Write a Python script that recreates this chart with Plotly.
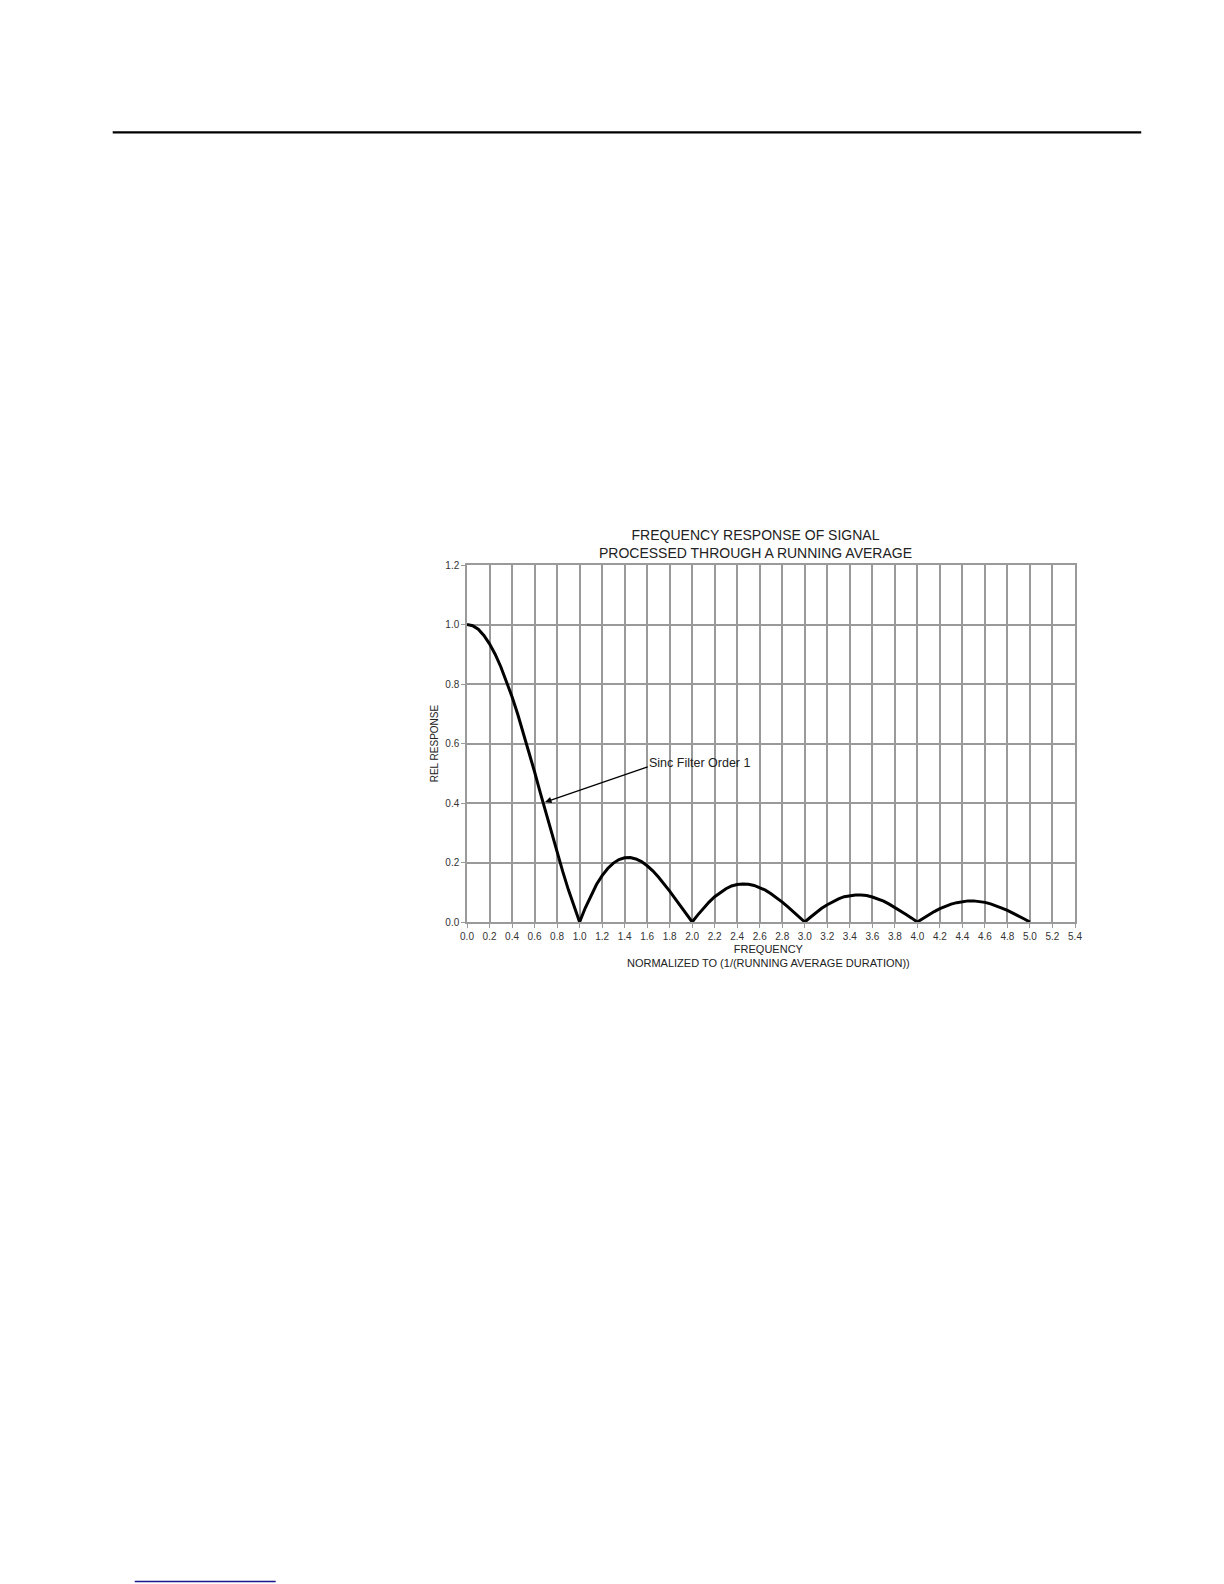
import plotly.graph_objects as go

# normalized frequency and relative response
freq = [0.00, 0.05, 0.10, 0.15, 0.20, 0.25, 0.30, 0.35, 0.40, 0.45,
        0.50, 0.55, 0.60, 0.65, 0.70, 0.75, 0.80, 0.85, 0.90, 0.95,
        1.00, 1.05, 1.10, 1.15, 1.20, 1.25, 1.30, 1.35, 1.40, 1.45,
        1.50, 1.55, 1.60, 1.65, 1.70, 1.75, 1.80, 1.85, 1.90, 1.95,
        2.00, 2.05, 2.10, 2.15, 2.20, 2.25, 2.30, 2.35, 2.40, 2.45,
        2.50, 2.55, 2.60, 2.65, 2.70, 2.75, 2.80, 2.85, 2.90, 2.95,
        3.00, 3.05, 3.10, 3.15, 3.20, 3.25, 3.30, 3.35, 3.40, 3.45,
        3.50, 3.55, 3.60, 3.65, 3.70, 3.75, 3.80, 3.85, 3.90, 3.95,
        4.00, 4.05, 4.10, 4.15, 4.20, 4.25, 4.30, 4.35, 4.40, 4.45,
        4.50, 4.55, 4.60, 4.65, 4.70, 4.75, 4.80, 4.85, 4.90, 4.95, 5.00]
response = [1.000, 0.996, 0.984, 0.963, 0.935, 0.900, 0.858, 0.810, 0.757, 0.699,
            0.637, 0.572, 0.505, 0.436, 0.368, 0.300, 0.234, 0.170, 0.109, 0.052,
            0.000, 0.047, 0.089, 0.126, 0.156, 0.180, 0.198, 0.210, 0.216, 0.217,
            0.212, 0.203, 0.189, 0.172, 0.151, 0.129, 0.104, 0.078, 0.052, 0.026,
            0.000, 0.024, 0.047, 0.067, 0.085, 0.100, 0.112, 0.121, 0.126, 0.128,
            0.127, 0.123, 0.116, 0.107, 0.095, 0.082, 0.067, 0.051, 0.034, 0.017,
            0.000, 0.016, 0.032, 0.046, 0.058, 0.069, 0.078, 0.085, 0.089, 0.091,
            0.091, 0.089, 0.084, 0.078, 0.070, 0.060, 0.049, 0.038, 0.025, 0.013,
            0.000, 0.012, 0.024, 0.035, 0.045, 0.053, 0.060, 0.065, 0.069, 0.071,
            0.071, 0.069, 0.066, 0.061, 0.055, 0.047, 0.039, 0.030, 0.020, 0.010, 0.000]

x_ticks = [round(0.2 * i, 1) for i in range(28)]
y_ticks = [0.0, 0.2, 0.4, 0.6, 0.8, 1.0, 1.2]

font = 'Liberation Sans, Arial, sans-serif'
grid = '#9a9a9a'

fig = go.Figure(go.Scatter(
    x=freq, y=response, mode='lines',
    line=dict(color='black', width=3),
    showlegend=False, hoverinfo='skip'))

fig.update_layout(
    width=1224, height=1584,
    margin=dict(l=459, r=157, t=557, b=670),
    paper_bgcolor='white', plot_bgcolor='white',
    font=dict(family=font, color='#222'),
    xaxis=dict(range=[0, 5.4], tickvals=x_ticks,
               ticktext=[f'{v:.1f}' for v in x_ticks],
               showgrid=True, gridcolor=grid, gridwidth=1.5,
               showline=True, linecolor=grid, linewidth=1.5, mirror=True,
               ticks='outside', ticklen=4, tickcolor=grid,
               tickfont=dict(size=10, family=font, color='#333'), zeroline=False),
    yaxis=dict(range=[0, 1.2], tickvals=y_ticks,
               ticktext=[f'{v:.1f}' for v in y_ticks],
               showgrid=True, gridcolor=grid, gridwidth=1.5,
               showline=True, linecolor=grid, linewidth=1.5, mirror=True,
               ticks='outside', ticklen=4, tickcolor=grid,
               tickfont=dict(size=10, family=font, color='#333'), zeroline=False),
    annotations=[
        dict(text='FREQUENCY RESPONSE OF SIGNAL<br>PROCESSED THROUGH A RUNNING AVERAGE',
             xref='paper', yref='paper', x=0.474, y=1.06,
             xanchor='center', yanchor='middle', showarrow=False,
             font=dict(size=14, family=font, color='#222')),
        dict(text='FREQUENCY<br>NORMALIZED TO (1/(RUNNING AVERAGE DURATION))',
             xref='paper', yref='paper', x=0.496, y=-0.0966,
             xanchor='center', yanchor='middle', showarrow=False,
             font=dict(size=11, family=font, color='#222')),
        dict(text='REL RESPONSE', textangle=-90,
             xref='paper', yref='paper', x=-0.053, y=0.5,
             xanchor='center', yanchor='middle', showarrow=False,
             font=dict(size=10, family=font, color='#222')),
        dict(text='', x=0.693, y=0.403, xref='x', yref='y',
             ax=1.618, ay=0.523, axref='x', ayref='y',
             showarrow=True, arrowhead=2, arrowsize=1, arrowwidth=1.3,
             arrowcolor='black'),
        dict(text='Sinc Filter Order 1', x=1.6, y=0.533, xref='x', yref='y',
             xanchor='left', yanchor='middle', showarrow=False,
             font=dict(size=12.5, family=font, color='#222')),
    ],
    shapes=[
        dict(type='line', xref='paper', yref='paper',
             x0=-0.5827, x1=1.1089, y0=2.212, y1=2.212,
             line=dict(color='black', width=2.2)),
        dict(type='line', xref='paper', yref='paper',
             x0=-0.5465, x1=-0.3147, y0=-1.847, y1=-1.847,
             line=dict(color='#1a1a8c', width=1.5)),
    ],
)

fig.write_html('out.html')
